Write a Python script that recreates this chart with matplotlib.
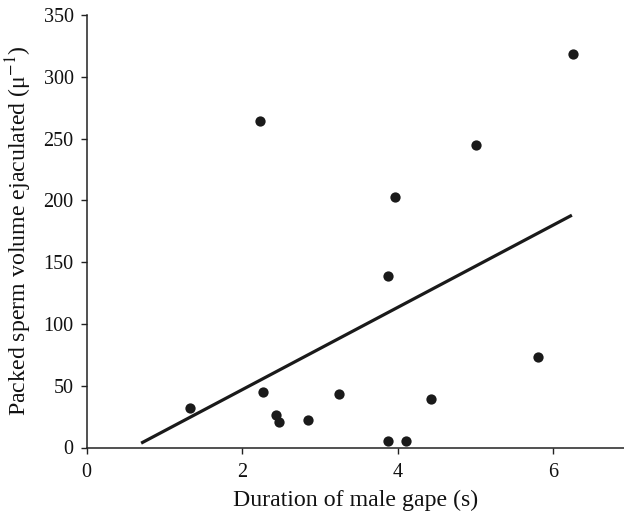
import matplotlib
matplotlib.use("Agg")
import matplotlib.pyplot as plt

# Data
gape_s = [1.33, 2.23, 2.27, 2.44, 2.47, 2.85, 3.24, 3.87, 3.88, 3.97, 4.11, 4.43, 5.01, 5.80, 6.26]
sperm_vol = [32, 264, 45, 26, 21, 22.5, 43, 139, 5.5, 203, 5.5, 39, 244.5, 73, 318.6]
fit_x = [0.70, 6.24]
fit_y = [3.5, 188.0]
x_ticks = [0, 2, 4, 6]
y_ticks = [0, 50, 100, 150, 200, 250, 300, 350]

plt.rcParams['font.family'] = ['Liberation Serif', 'DejaVu Serif']
plt.rcParams['mathtext.fontset'] = 'stix'

fig = plt.figure(figsize=(6.24, 5.13), dpi=100)
ax = fig.add_axes([86.7 / 624, (513 - 447.5) / 513, (624 - 86.7) / 624, (447.5 - 15.0) / 513])

ax.plot(fit_x, fit_y, color='#1a1a1a', lw=2.3, solid_capstyle='butt', zorder=2)
ax.plot(gape_s, sperm_vol, 'o', color='#1a1a1a', markersize=7.4, markeredgewidth=0, zorder=3)

ax.set_xlim(0, 6.91)
ax.set_ylim(0, 350)
ax.set_xticks(x_ticks)
ax.set_yticks(y_ticks)
for s in ['top', 'right']:
    ax.spines[s].set_visible(False)
for s in ['left', 'bottom']:
    ax.spines[s].set_linewidth(1.1)
    ax.spines[s].set_color('#222222')
ax.tick_params(direction='out', length=4, width=1.0, colors='#222222', labelsize=14.5, labelcolor='#111111')
ax.tick_params(axis='x', pad=7)
ax.tick_params(axis='y', pad=5.5)

ax.set_xlabel('Duration of male gape (s)', fontsize=17.2, color='#111111', labelpad=6)
ax.set_ylabel(r'Packed sperm volume ejaculated (μ$^{-1}$)', fontsize=17.2, color='#111111', labelpad=7)

fig.savefig('out.png', dpi=100)
